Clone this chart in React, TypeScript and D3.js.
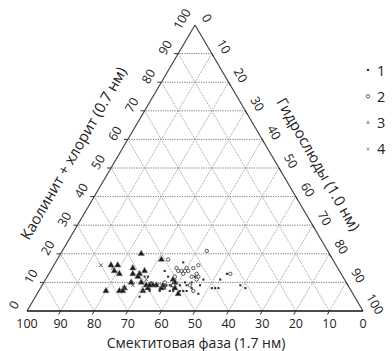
import React from 'react';
import * as d3 from 'd3';

// Ternary values: [Smectite, Hydromica, Kaolinite+chlorite] in %
const series1: number[][] = [
  [45, 38, 17], [52, 34, 14], [37, 52, 11], [34, 53, 13], [32, 59, 9], [31, 61, 8], [40, 52, 8],
  [41, 51, 8], [39, 53, 8], [50, 41, 9], [48, 42, 10], [48, 43, 9], [47, 45, 8], [46, 48, 6],
  [57, 36, 7], [54, 39, 7], [59, 29, 12], [58, 30, 12], [58, 32, 10], [56, 35, 9], [55, 36, 9],
  [54, 37, 9], [55, 37, 8], [53, 38, 9], [44, 47, 9], [64, 31, 5], [51, 42, 7], [49, 44, 7],
  [50, 43, 7], [57, 34, 9], [53, 40, 7], [46, 44, 10], [44, 44, 12], [42, 47, 11], [60, 33, 7],
  [62, 31, 7], [52, 36, 12],
];
const series2: number[][] = [
  [36, 43, 21], [49, 33, 18], [48, 37, 15], [48, 38, 14], [47, 39, 14], [46, 40, 14], [45, 41, 14],
  [45, 40, 15], [47, 40, 13], [43, 42, 15], [41, 43, 16], [43, 44, 13], [43, 45, 12], [44, 45, 11],
  [33, 54, 13], [54, 36, 10], [56, 35, 9], [47, 46, 7], [47, 44, 9], [50, 38, 12], [45, 43, 12],
  [52, 39, 9],
];
const series3: number[][] = [
  [56, 24, 20], [51, 31, 18], [67, 17, 16], [65, 19, 16], [67, 19, 14], [66, 21, 13], [61, 24, 15],
  [58, 28, 14], [60, 27, 13], [62, 25, 13], [61, 27, 12], [73, 20, 7], [67, 25, 8], [69, 24, 7],
  [64, 26, 10], [61, 29, 10], [60, 31, 9], [58, 33, 9], [57, 34, 9], [62, 31, 7], [60, 32, 8],
  [51, 38, 11], [51, 39, 10], [52, 39, 9], [52, 40, 8], [68, 25, 7], [56, 36, 8], [52, 42, 6],
  [59, 32, 9], [55, 36, 9],
];
const series4: number[][] = [
  [70, 14, 16], [67, 18, 15], [67, 25, 8], [59, 30, 11], [55, 37, 8], [64, 27, 9],
];

const tickValues = [0, 10, 20, 30, 40, 50, 60, 70, 80, 90, 100];
const gridValues = [10, 20, 30, 40, 50, 60, 70, 80, 90];
const legendLabels = ['1', '2', '3', '4'];
const bottomTitle = 'Смектитовая фаза (1.7 нм)';
const leftTitle = 'Каолинит + хлорит (0.7 нм)';
const rightTitle = 'Гидрослюды (1.0 нм)';

const W = 392;
const H = 351;
const FONT = "'Open Sans', sans-serif";
const TXT = '#222';

const xs = d3.scaleLinear().domain([0, 100]).range([27, 363]);
const ys = d3.scaleLinear().domain([0, 100]).range([311, 25]);
const pt = (s: number, h: number, k: number): [number, number] => [xs(h + k / 2), ys(k)];

const line = d3.line<[number, number]>();
const triPath = d3.symbol(d3.symbolTriangle, 17)()!;
const sqPath = d3.symbol(d3.symbolSquare, 4.5)()!;
const crossPath = d3.symbol(d3.symbolX, 10)()!;

export default function App() {
  const [L, R, T] = [pt(100, 0, 0), pt(0, 100, 0), pt(0, 0, 100)];
  return (
    <svg width={W} height={H} style={{ position: 'absolute', left: 0, top: 0, background: '#fff' }} fontFamily={FONT}>
      {/* grid */}
      {gridValues.map((v) => (
        <g key={'g' + v}>
          <path d={line([pt(0, 100 - v, v), pt(100 - v, 0, v)])!} stroke="#666" strokeWidth={0.9} strokeDasharray="1.2,1.2" fill="none" />
          <path d={line([pt(v, 100 - v, 0), pt(v, 0, 100 - v)])!} stroke="#aaa" strokeWidth={0.9} strokeDasharray="2,1" fill="none" />
          <path d={line([pt(100 - v, v, 0), pt(0, v, 100 - v)])!} stroke="#aaa" strokeWidth={0.9} strokeDasharray="2,1" fill="none" />
        </g>
      ))}
      {/* frame */}
      <path d={line([L, T])!} stroke="#444" strokeWidth={1.2} fill="none" />
      <path d={line([T, R])!} stroke="#444" strokeWidth={1.2} fill="none" />
      <path d={line([L, R])!} stroke="#111" strokeWidth={1.3} fill="none" />
      {/* ticks */}
      {gridValues.map((v) => {
        const l = pt(100 - v, 0, v);
        const r = pt(0, v, 100 - v);
        const b = pt(v, 100 - v, 0);
        return (
          <g key={'t' + v} stroke="#333" strokeWidth={1}>
            <line x1={l[0]} y1={l[1]} x2={l[0] - 4} y2={l[1]} />
            <line x1={r[0]} y1={r[1]} x2={r[0] + 2} y2={r[1] + 3.5} />
            <line x1={b[0]} y1={b[1]} x2={b[0] - 2} y2={b[1] + 3.5} />
          </g>
        );
      })}
      {/* tick labels */}
      {tickValues.map((v) => {
        const l = pt(100 - v, 0, v);
        const r = pt(0, v, 100 - v);
        const b = pt(v, 100 - v, 0);
        return (
          <g key={'l' + v} fontSize={12.5} fill={TXT} textAnchor="middle">
            <text transform={`translate(${l[0] - 13},${l[1] - 6}) rotate(-60)`} dominantBaseline="central">{v}</text>
            <text transform={`translate(${r[0] + 12},${r[1] - 7}) rotate(60)`} dominantBaseline="central">{v}</text>
            <text x={b[0]} y={b[1] + 17}>{v}</text>
          </g>
        );
      })}
      {/* titles */}
      <text x={196} y={348} fontSize={14} fill={TXT} textAnchor="middle">{bottomTitle}</text>
      <text transform="translate(73,153) rotate(-60)" fontSize={15} fill={TXT} textAnchor="middle" dominantBaseline="central">{leftTitle}</text>
      <text transform="translate(319,164) rotate(60)" fontSize={15} fill={TXT} textAnchor="middle" dominantBaseline="central">{rightTitle}</text>
      {/* data */}
      {series3.map((d, i) => {
        const [px, py] = pt(d[0], d[1], d[2]);
        return <path key={'s3' + i} d={triPath} transform={`translate(${px},${py})`} fill="#1a1a1a" stroke="#777" strokeWidth={0.5} />;
      })}
      {series1.map((d, i) => {
        const [px, py] = pt(d[0], d[1], d[2]);
        return <path key={'s1' + i} d={sqPath} transform={`translate(${px},${py})`} fill="#333" />;
      })}
      {series2.map((d, i) => {
        const [px, py] = pt(d[0], d[1], d[2]);
        return <circle key={'s2' + i} cx={px} cy={py} r={1.7} fill="#fff" stroke="#333" strokeWidth={0.8} />;
      })}
      {series4.map((d, i) => {
        const [px, py] = pt(d[0], d[1], d[2]);
        return <path key={'s4' + i} d={crossPath} transform={`translate(${px},${py})`} fill="none" stroke="#555" strokeWidth={0.9} />;
      })}
      {/* legend */}
      {legendLabels.map((lab, i) => {
        const ly = 70 + i * 26.3;
        return (
          <g key={'lg' + lab}>
            {i === 0 && <path d={sqPath} transform={`translate(368,${ly})`} fill="#333" />}
            {i === 1 && <circle cx={368} cy={ly} r={1.7} fill="#fff" stroke="#333" strokeWidth={0.8} />}
            {i === 2 && <path d={d3.symbol(d3.symbolTriangle, 7)()!} transform={`translate(368,${ly})`} fill="#999" />}
            {i === 3 && <path d={d3.symbol(d3.symbolX, 6)()!} transform={`translate(368,${ly})`} fill="none" stroke="#777" strokeWidth={0.8} />}
            <text x={377} y={ly} fontSize={14.5} fill={TXT} dominantBaseline="central">{lab}</text>
          </g>
        );
      })}
    </svg>
  );
}
